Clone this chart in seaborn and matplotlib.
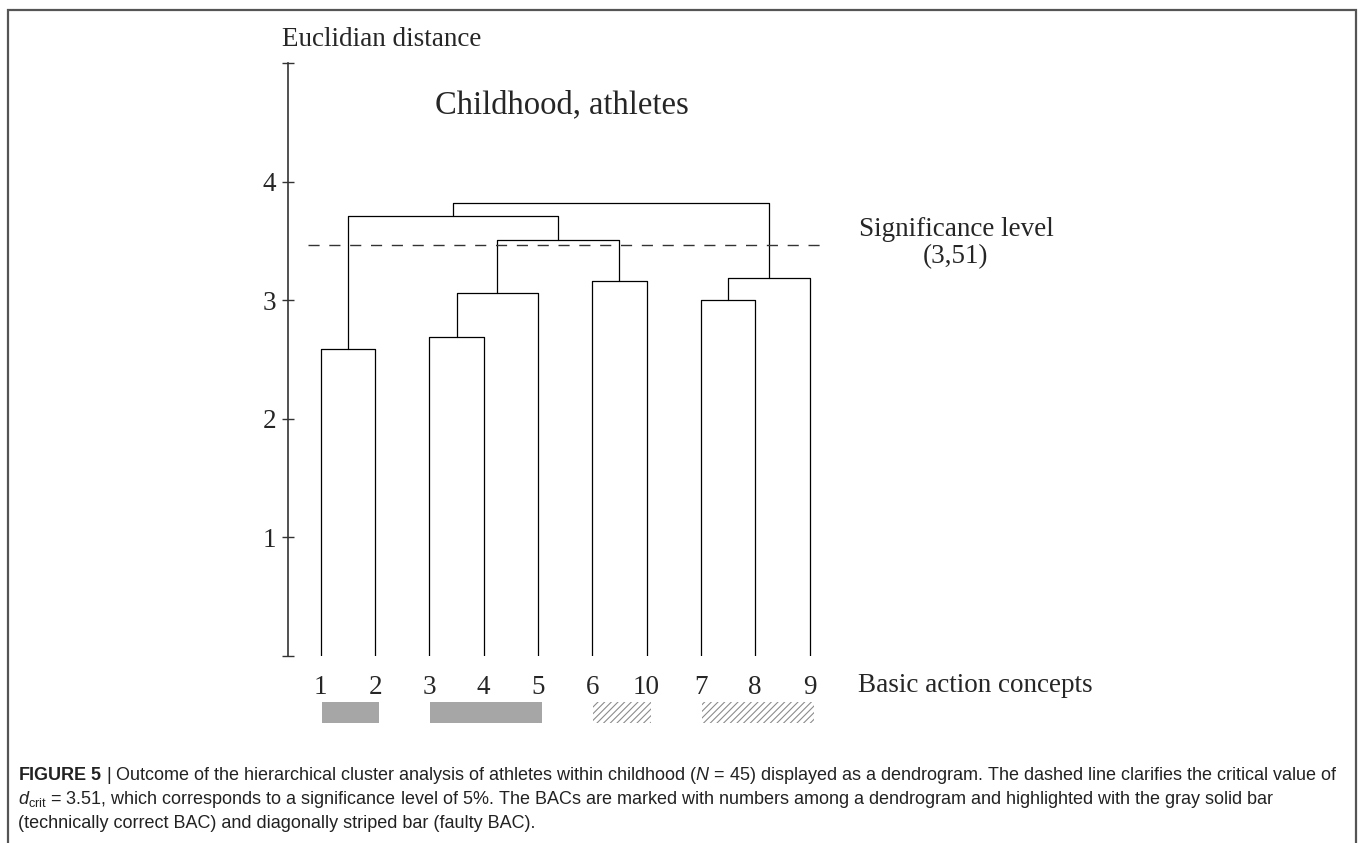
import matplotlib
matplotlib.use("Agg")
import matplotlib.pyplot as plt
from matplotlib.patches import Rectangle
import numpy as np
import pandas as pd
import seaborn as sns

# ---------------- data ----------------
leaf_labels = ["1", "2", "3", "4", "5", "6", "10", "7", "8", "9"]
# merges (cluster Ck is created by merge k)
merge_a = ["1", "3", "7", "C1", "6", "C2", "C3", "C0", "C7"]
merge_b = ["2", "4", "8", "5", "10", "9", "C4", "C6", "C5"]
merge_h = [2.59, 2.69, 3.00, 3.06, 3.16, 3.19, 3.51, 3.71, 3.82]
dashed_level = 3.47
sig_label = "Significance level\n(3,51)"
y_ticks = [0, 1, 2, 3, 4, 5]
y_ticklabels = ["", "1", "2", "3", "4", ""]
bar_first = ["1", "3", "6", "7"]
bar_last = ["2", "5", "10", "9"]
bar_kind = ["correct", "correct", "faulty", "faulty"]

# ---------------- layout helpers ----------------
W, H = 1360, 843
def fx(px):
    return px / W
def fy(py):
    return 1 - py / H

sns.set_style("white")
plt.rcParams["font.family"] = ["Liberation Serif", "DejaVu Serif"]
plt.rcParams["mathtext.fontset"] = "custom"
plt.rcParams["mathtext.rm"] = "Liberation Sans"
plt.rcParams["mathtext.it"] = "Liberation Sans:italic"
plt.rcParams["mathtext.bf"] = "Liberation Sans:bold"
plt.rcParams["hatch.linewidth"] = 0.8

fig = plt.figure(figsize=(W / 100, H / 100), dpi=100)
fig.patch.set_facecolor("white")

ax_left, ax_right, ax_top, ax_bottom = 288, 820.6, 63.3, 655.7
ax = fig.add_axes([fx(ax_left), fy(ax_bottom), fx(ax_right - ax_left), (ax_bottom - ax_top) / H])
ax.set_facecolor("none")

# ---------------- dendrogram layout from merges ----------------
pos = {lab: float(i) for i, lab in enumerate(leaf_labels)}
hgt = {lab: 0.0 for lab in leaf_labels}
rows = []
for k, (a, b, h) in enumerate(zip(merge_a, merge_b, merge_h)):
    xa, xb = pos[a], pos[b]
    for px_, py_ in [(xa, hgt[a]), (xa, h), (xb, h), (xb, hgt[b])]:
        rows.append({"merge": k, "x": px_, "y": py_})
    pos[f"C{k}"] = (xa + xb) / 2
    hgt[f"C{k}"] = h
seg = pd.DataFrame(rows)

sns.lineplot(data=seg, x="x", y="y", units="merge", estimator=None, sort=False,
             color="black", linewidth=0.9, legend=False, ax=ax)

# significance dashed line
ax.hlines(dashed_level, -0.23, 9.2, colors="#333333", linewidth=1.0,
          linestyles=(0, (8, 7)), clip_on=False)

# ---------------- axes styling ----------------
x0 = (ax_left - 320.8) / 54.3
x1 = (ax_right - 320.8) / 54.3
ax.set_xlim(x0, x1)
ax.set_ylim(0, 5)
for s in ["top", "right", "bottom"]:
    ax.spines[s].set_visible(False)
ax.spines["left"].set_color("#333333")
ax.spines["left"].set_linewidth(1.2)
ax.set_yticks(y_ticks)
ax.set_yticklabels(y_ticklabels)
ax.tick_params(axis="y", direction="inout", length=9, width=1.0, color="#333333",
               labelsize=19.5, pad=4, left=True)
ax.set_xticks(range(len(leaf_labels)))
ax.set_xticklabels(leaf_labels)
ax.tick_params(axis="x", length=0, labelsize=19.5, pad=14, bottom=True)
ax.set_xlabel("")
ax.set_ylabel("")

# ---------------- BAC bars ----------------
for f, l, kind in zip(bar_first, bar_last, bar_kind):
    xs = pos[f] + 0.02
    xe = pos[l] + 0.08
    if kind == "correct":
        ax.bar((xs + xe) / 2, 0.18, width=xe - xs, bottom=-0.57, color="#a6a6a6",
               linewidth=0, clip_on=False)
    else:
        ax.bar((xs + xe) / 2, 0.18, width=xe - xs, bottom=-0.57, facecolor="white",
               edgecolor="#8c8c8c", hatch="/////", linewidth=0, clip_on=False)

# ---------------- texts ----------------
fig.text(fx(282), fy(40), "Euclidian distance", fontsize=19.5, ha="left", va="center")
fig.text(fx(562), fy(105), "Childhood, athletes", fontsize=23.5, ha="center", va="center")
fig.text(fx(956), fy(243), sig_label, fontsize=19.5, ha="center", va="center",
         linespacing=1.15)
fig.text(fx(858), fy(685), "Basic action concepts", fontsize=19.5, ha="left", va="center")

cap_kw = dict(fontsize=13, ha="left", va="center", color="#222222",
              family=["Liberation Sans", "DejaVu Sans"])
fig.text(fx(18), fy(775),
         r"$\mathbf{FIGURE\ 5}$ | Outcome of the hierarchical cluster analysis of athletes within "
         r"childhood ($N$ = 45) displayed as a dendrogram. The dashed line clarifies the critical value of",
         **cap_kw)
fig.text(fx(18), fy(800),
         r"$d_{\mathrm{crit}}$ = 3.51, which corresponds to a significance level of 5%. The BACs are marked "
         r"with numbers among a dendrogram and highlighted with the gray solid bar",
         **cap_kw)
fig.text(fx(18), fy(823),
         "(technically correct BAC) and diagonally striped bar (faulty BAC).", **cap_kw)

# frame
fig.add_artist(Rectangle((fx(8), fy(900)), fx(1356 - 8), (900 - 10) / H, fill=False,
                         edgecolor="#555555", linewidth=1.6, transform=fig.transFigure))

fig.savefig("out.png", dpi=100, facecolor="white")
